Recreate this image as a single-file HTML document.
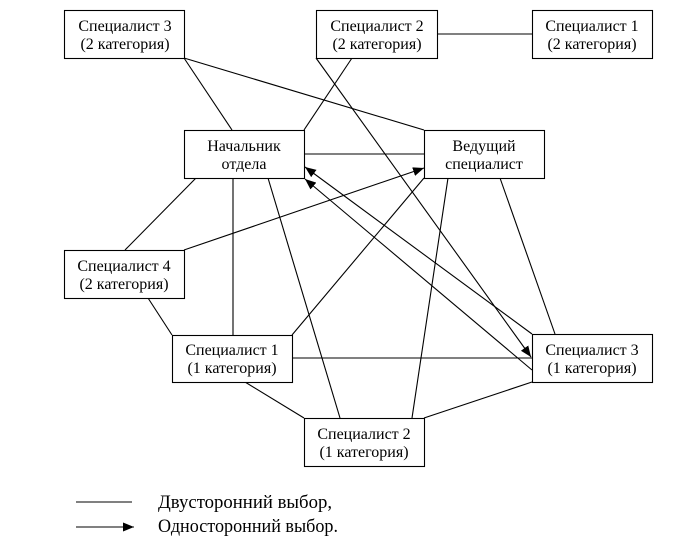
<!DOCTYPE html>
<html>
<head>
<meta charset="utf-8">
<style>
html,body{margin:0;padding:0;background:#fff;}
svg{display:block;}
text{font-family:"Liberation Serif","DejaVu Serif",serif;fill:#000;}
</style>
</head>
<body>
<svg width="676" height="553" viewBox="0 0 676 553" xmlns="http://www.w3.org/2000/svg">
<defs>
<marker id="ah" markerUnits="userSpaceOnUse" markerWidth="12" markerHeight="10" refX="11" refY="4.5" orient="auto">
<path d="M0,0 L11,4.5 L0,9 z" fill="#000"/>
</marker>
</defs>
<rect width="676" height="553" fill="#fff"/>
<g stroke="#000" stroke-width="1.1" fill="none">
<line x1="437" y1="34" x2="532" y2="34"/>
<line x1="184" y1="58" x2="232" y2="130"/>
<line x1="184" y1="58" x2="424" y2="130"/>
<line x1="304" y1="130" x2="352" y2="58"/>
<line x1="316" y1="58" x2="531" y2="357" marker-end="url(#ah)"/>
<line x1="304" y1="154" x2="424" y2="154"/>
<line x1="532" y1="334" x2="305" y2="167" marker-end="url(#ah)"/>
<line x1="532" y1="370" x2="305" y2="179" marker-end="url(#ah)"/>
<line x1="184" y1="250" x2="424" y2="168" marker-end="url(#ah)"/>
<line x1="424" y1="178" x2="292" y2="335"/>
<line x1="448" y1="178" x2="412" y2="418"/>
<line x1="500" y1="178" x2="555" y2="334"/>
<line x1="196" y1="178" x2="125" y2="250"/>
<line x1="233" y1="178" x2="233" y2="335"/>
<line x1="268" y1="178" x2="340" y2="418"/>
<line x1="148" y1="298" x2="172" y2="335"/>
<line x1="292" y1="358" x2="532" y2="358"/>
<line x1="245" y1="382" x2="304" y2="418"/>
<line x1="424" y1="418" x2="532" y2="382"/>
<line x1="76" y1="502" x2="132" y2="502"/>
<line x1="76" y1="527" x2="134" y2="527" marker-end="url(#ah)"/>
</g>
<g stroke="#000" stroke-width="1.1" fill="#fff">
<rect x="64.5" y="10.5" width="120" height="48"/>
<rect x="316.5" y="10.5" width="121" height="48"/>
<rect x="532.5" y="10.5" width="120" height="48"/>
<rect x="184.5" y="130.5" width="120" height="48"/>
<rect x="424.5" y="130.5" width="120" height="48"/>
<rect x="64.5" y="250.5" width="120" height="48"/>
<rect x="172.5" y="335.5" width="120" height="47"/>
<rect x="532.5" y="334.5" width="120" height="48"/>
<rect x="304.5" y="418.5" width="120" height="48"/>
</g>
<g font-size="16" text-anchor="middle">
<text x="125" y="31">Специалист 3</text>
<text x="125" y="49">(2 категория)</text>
<text x="377" y="31">Специалист 2</text>
<text x="377" y="49">(2 категория)</text>
<text x="592" y="31">Специалист 1</text>
<text x="592" y="49">(2 категория)</text>
<text x="244" y="151">Начальник</text>
<text x="244" y="169">отдела</text>
<text x="484" y="151">Ведущий</text>
<text x="484" y="169">специалист</text>
<text x="124" y="271">Специалист 4</text>
<text x="124" y="289">(2 категория)</text>
<text x="232" y="355">Специалист 1</text>
<text x="232" y="373">(1 категория)</text>
<text x="592" y="355">Специалист 3</text>
<text x="592" y="373">(1 категория)</text>
<text x="364" y="439">Специалист 2</text>
<text x="364" y="457">(1 категория)</text>
</g>
<g font-size="18.5">
<text x="158" y="508" textLength="174" lengthAdjust="spacingAndGlyphs">Двусторонний выбор,</text>
<text x="158" y="532" textLength="180" lengthAdjust="spacingAndGlyphs">Односторонний выбор.</text>
</g>
</svg>
</body>
</html>
